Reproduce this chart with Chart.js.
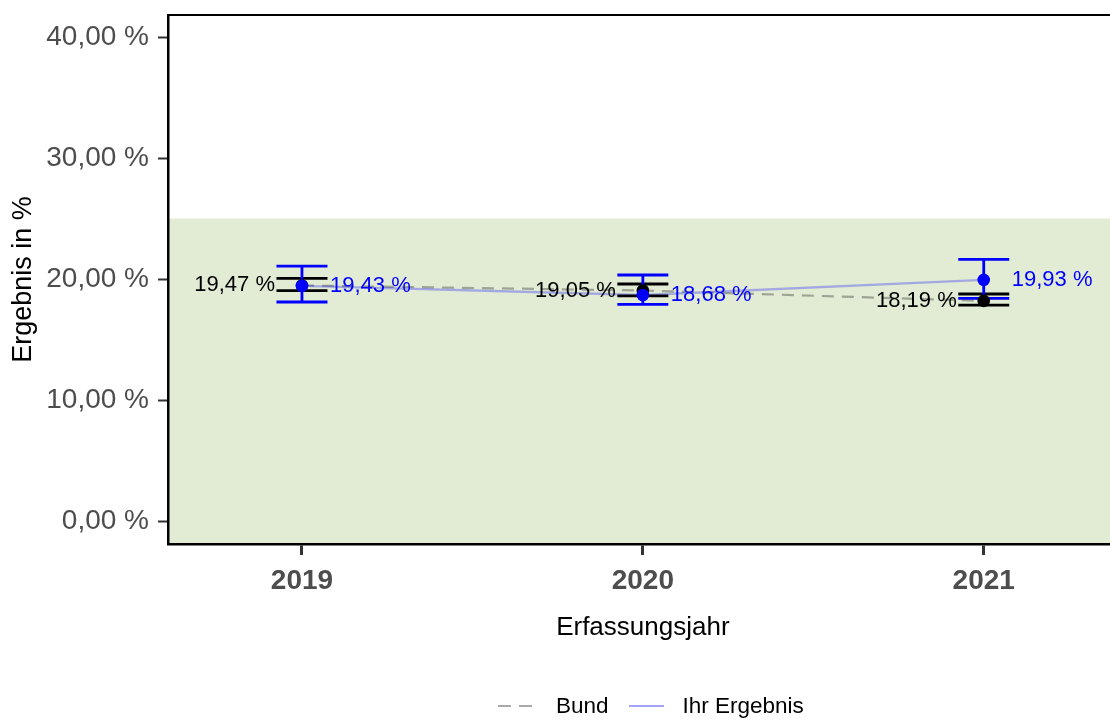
<!DOCTYPE html>
<html lang="de">
<head>
    <meta charset="UTF-8">
    <title>Ergebnis nach Erfassungsjahr</title>
    <script src="https://cdn.jsdelivr.net/npm/chart.js@4"></script>
    <style>
        body {
            margin: 0;
            padding: 0;
            background: #fff;
            overflow: hidden;
            font-family: 'Liberation Sans', Arial, sans-serif;
        }

        #wrap {
            position: relative;
            width: 1110px;
            height: 720px;
            overflow: hidden;
        }

        #chart {
            position: absolute;
            left: 0;
            top: 0;
        }

        .legend {
            position: absolute;
            left: 498px;
            top: 694px;
            height: 24px;
            display: flex;
            align-items: center;
            font-size: 22.5px;
            color: #000;
        }

        .key {
            width: 35px;
            height: 2px;
        }

        .key.dashed {
            background: repeating-linear-gradient(to right, #a9a9a9 0 13px, transparent 13px 21px);
            margin-right: 23px;
        }

        .key.solid {
            background: #a3a3f7;
            margin-left: 20px;
            margin-right: 19px;
        }
    </style>
</head>

<body>
    <div id="wrap">
        <!-- Panel ragt rechts etwas ueber den Rand hinaus, wie im Original -->
        <canvas id="chart" width="1124" height="720"></canvas>
        <div class="legend">
            <span class="key dashed"></span><span>Bund</span>
            <span class="key solid"></span><span>Ihr Ergebnis</span>
        </div>
    </div>

    <script>
        // Werte
        const jahre = [2019, 2020, 2021];
        const bund = [19.47, 19.05, 18.19];
        const bundUnten = [19.04, 18.60, 17.85];
        const bundOben = [20.06, 19.59, 18.76];
        const ihrErgebnis = [19.43, 18.68, 19.93];
        const ihrUnten = [18.10, 17.91, 18.40];
        const ihrOben = [21.07, 20.33, 21.63];
        const yTicks = [0, 10, 20, 30, 40];
        const referenzBereich = 25; // gruener Bereich bis 25 %

        const fmt = v => v.toFixed(2).replace('.', ',') + ' %';
        const FONT = "'Liberation Sans', Arial, sans-serif";

        // Hintergrund, Fehlerbalken, Beschriftungen
        const extras = {
            id: 'extras',
            beforeDraw(chart) {
                const { ctx, chartArea, scales: { y } } = chart;
                ctx.save();
                ctx.fillStyle = 'rgb(226, 235, 212)';
                const top = y.getPixelForValue(referenzBereich);
                ctx.fillRect(chartArea.left, top, chartArea.right - chartArea.left, chartArea.bottom - top);
                ctx.restore();
            },
            afterDatasetDraw(chart, args) {
                if (args.index !== 1) return;
                const { ctx, scales: { x, y } } = chart;
                const half = 25.5;
                const bar = (xv, lo, hi, color) => {
                    const px = x.getPixelForValue(xv);
                    const yLo = y.getPixelForValue(lo);
                    const yHi = y.getPixelForValue(hi);
                    ctx.strokeStyle = color;
                    ctx.lineWidth = 2.8;
                    ctx.beginPath();
                    ctx.moveTo(px - half, yHi); ctx.lineTo(px + half, yHi);
                    ctx.moveTo(px - half, yLo); ctx.lineTo(px + half, yLo);
                    ctx.moveTo(px, yHi); ctx.lineTo(px, yLo);
                    ctx.stroke();
                };
                ctx.save();
                jahre.forEach((j, i) => bar(j, bundUnten[i], bundOben[i], '#000'));
                jahre.forEach((j, i) => bar(j, ihrUnten[i], ihrOben[i], '#0000ff'));
                ctx.restore();
            },
            afterDatasetsDraw(chart) {
                const { ctx, scales: { x, y } } = chart;
                ctx.save();
                ctx.font = '22px ' + FONT;
                ctx.textBaseline = 'middle';
                jahre.forEach((j, i) => {
                    const px = x.getPixelForValue(j);
                    ctx.fillStyle = '#000';
                    ctx.textAlign = 'right';
                    ctx.fillText(fmt(bund[i]), px - 27, y.getPixelForValue(bund[i]));
                    ctx.fillStyle = '#0000ff';
                    ctx.textAlign = 'left';
                    ctx.fillText(fmt(ihrErgebnis[i]), px + 28, y.getPixelForValue(ihrErgebnis[i]));
                });
                ctx.restore();
            },
            afterDraw(chart) {
                const { ctx, chartArea } = chart;
                ctx.save();
                ctx.strokeStyle = '#000';
                ctx.lineWidth = 2;
                ctx.beginPath();
                ctx.moveTo(chartArea.left - 1, chartArea.top);
                ctx.lineTo(chartArea.right, chartArea.top);
                ctx.stroke();
                ctx.restore();
            }
        };

        const punkte = arr => jahre.map((j, i) => ({ x: j, y: arr[i] }));

        new Chart(document.getElementById('chart').getContext('2d'), {
            type: 'line',
            data: {
                datasets: [
                    {
                        label: 'Bund',
                        data: punkte(bund),
                        borderColor: 'rgba(0, 0, 0, 0.3)',
                        borderWidth: 2.2,
                        borderDash: [12, 8],
                        pointRadius: 0,
                        order: 4
                    },
                    {
                        label: 'Ihr Ergebnis',
                        data: punkte(ihrErgebnis),
                        borderColor: 'rgba(0, 0, 255, 0.28)',
                        borderWidth: 2.4,
                        pointRadius: 0,
                        order: 3
                    },
                    {
                        label: 'Bund Punkte',
                        data: punkte(bund),
                        showLine: false,
                        pointRadius: 6.3,
                        pointBorderWidth: 0,
                        pointBackgroundColor: '#000',
                        order: 2
                    },
                    {
                        label: 'Ihr Ergebnis Punkte',
                        data: punkte(ihrErgebnis),
                        showLine: false,
                        pointRadius: 6.3,
                        pointBorderWidth: 0,
                        pointBackgroundColor: '#0000ff',
                        order: 1
                    }
                ]
            },
            options: {
                responsive: false,
                animation: false,
                layout: { padding: { top: 15, left: 0, right: 0, bottom: 0 } },
                plugins: {
                    legend: { display: false },
                    tooltip: { enabled: false }
                },
                scales: {
                    x: {
                        type: 'linear',
                        min: 2018.607,
                        max: 2021.393,
                        afterBuildTicks: s => { s.ticks = jahre.map(v => ({ value: v })); },
                        afterFit: s => { s.height = 176; s.paddingLeft = 0; s.paddingRight = 0; },
                        ticks: {
                            callback: v => String(v),
                            font: { family: FONT, size: 28, weight: 'bold' },
                            color: '#4d4d4d',
                            padding: 9,
                            maxRotation: 0
                        },
                        grid: {
                            drawOnChartArea: false,
                            drawTicks: true,
                            tickLength: 11,
                            tickWidth: 3,
                            tickColor: '#333'
                        },
                        border: { display: true, color: '#000', width: 2.5 },
                        title: {
                            display: true,
                            text: 'Erfassungsjahr',
                            font: { family: FONT, size: 26 },
                            color: '#000',
                            padding: { top: 0, bottom: 77 }
                        }
                    },
                    y: {
                        min: -1.9,
                        max: 41.82,
                        afterBuildTicks: s => { s.ticks = yTicks.map(v => ({ value: v })); },
                        afterFit: s => { s.width = 168; s.paddingTop = 0; s.paddingBottom = 0; },
                        ticks: {
                            callback: v => fmt(v),
                            font: { family: FONT, size: 28 },
                            color: '#4d4d4d',
                            padding: 9
                        },
                        grid: {
                            drawOnChartArea: false,
                            drawTicks: true,
                            tickLength: 10,
                            tickWidth: 2,
                            tickColor: '#333'
                        },
                        border: { display: true, color: '#000', width: 2.5 },
                        title: {
                            display: true,
                            text: 'Ergebnis in %',
                            font: { family: FONT, size: 27 },
                            color: '#000',
                            padding: { top: 7, bottom: 0 }
                        }
                    }
                }
            },
            plugins: [extras]
        });
    </script>
</body>

</html>
